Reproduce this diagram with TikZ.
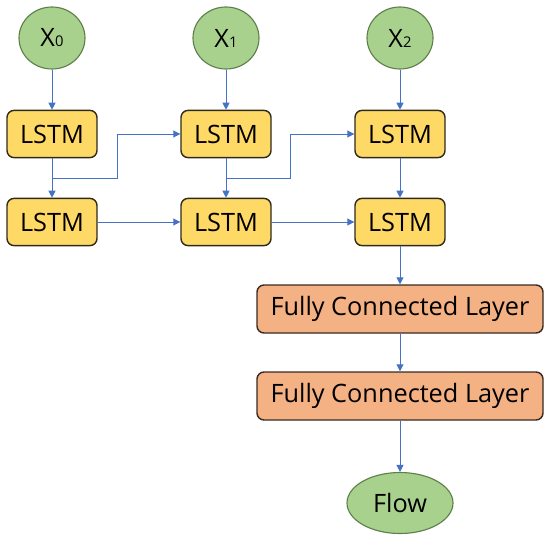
\documentclass[tikz,border=0pt]{standalone}
\usepackage{fontspec}
\setmainfont{Open Sans}
\usepackage{xcolor}
\usetikzlibrary{arrows.meta,positioning,shapes.geometric}
\definecolor{leafgreen}{HTML}{A9D18E}
\definecolor{leafedge}{HTML}{5E7F4A}
\definecolor{cellyellow}{HTML}{FFD966}
\definecolor{celledge}{HTML}{2E2A1C}
\definecolor{denseorange}{HTML}{F4B183}
\definecolor{denseedge}{HTML}{3A2A20}
\definecolor{wireblue}{HTML}{4472C4}
\newcommand{\xin}[1]{X{\fontsize{10.5}{10.5}\selectfont #1}}

\begin{document}
\begin{tikzpicture}[
  font=\fontsize{18}{21}\selectfont,
  inp/.style={ellipse,draw=leafedge,fill=leafgreen,line width=0.8pt,
    minimum width=1.65cm,minimum height=1.55cm,inner sep=0pt},
  cell/.style={draw=celledge,fill=cellyellow,line width=1pt,rounded corners=5pt,
    minimum width=2.25cm,minimum height=1.18cm,inner sep=2pt},
  dense/.style={draw=denseedge,fill=denseorange,line width=1pt,rounded corners=5pt,
    minimum width=7.15cm,minimum height=1.2cm,inner sep=2pt},
  flow/.style={-{Triangle[length=5pt,width=5pt]},draw=wireblue,
    line width=0.7pt}]
\useasboundingbox (0,0) rectangle (13.75,13.5);
\node[inp] (x0) at (1.3,12.55) {\xin{0}};
\node[inp] (x1) at (5.65,12.55) {\xin{1}};
\node[inp] (x2) at (10,12.55) {\xin{2}};
\node[cell] (l10) at (1.3,10.15) {LSTM};
\node[cell] (l11) at (5.65,10.15) {LSTM};
\node[cell] (l12) at (10,10.15) {LSTM};
\node[cell] (l20) at (1.3,7.95) {LSTM};
\node[cell] (l21) at (5.65,7.95) {LSTM};
\node[cell] (l22) at (10,7.95) {LSTM};
\node[dense] (fc1) at (10,5.775) {Fully Connected Layer};
\node[dense] (fc2) at (10,3.6) {Fully Connected Layer};
\node[inp,minimum width=2.65cm,minimum height=1.525cm] (out) at (10,0.925) {Flow};

\draw[flow] (x0)--(l10);
\draw[flow] (x1)--(l11);
\draw[flow] (x2)--(l12);
\draw[flow] (l10)--(l20);
\draw[flow] (l11)--(l21);
\draw[flow] (l12)--(l22);
\coordinate (split0) at (1.3,9.05);
\coordinate (split1) at (5.65,9.05);
\draw[flow] (split0)--++(1.625,0)|-(l11.west);
\draw[flow] (split1)--++(1.6,0)|-(l12.west);
\draw[flow] (l20)--(l21);
\draw[flow] (l21)--(l22);
\draw[flow] (l22)--(fc1);
\draw[flow] (fc1)--(fc2);
\draw[flow] (fc2)--(out);
\end{tikzpicture}
\end{document}
